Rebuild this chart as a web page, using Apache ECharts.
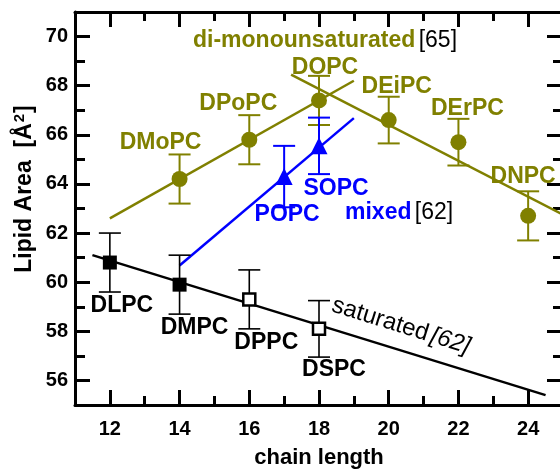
<!DOCTYPE html>
<html>
<head>
<meta charset="utf-8">
<script src="https://cdn.jsdelivr.net/npm/echarts@6/dist/echarts.min.js"></script>
<style>html,body{margin:0;padding:0;background:#fff}#c{width:560px;height:472px}</style>
</head>
<body>
<div id="c"></div>
<script>
// ---- data ----
const xMajorTicks = [12, 14, 16, 18, 20, 22, 24];
const yMajorTicks = [56, 58, 60, 62, 64, 66, 68, 70];

const satNames = ['DLPC', 'DMPC', 'DPPC', 'DSPC'];
const satChain = [12, 14, 16, 18];
const satArea = [60.8, 59.9, 59.3, 58.1];
const satErr = [1.2, 1.2, 1.2, 1.15];
const satFilled = [true, true, false, false];

const monoNames = ['DMoPC', 'DPoPC', 'DOPC', 'DEiPC', 'DErPC', 'DNPC'];
const monoChain = [14, 16, 18, 20, 22, 24];
const monoArea = [64.2, 65.8, 67.4, 66.6, 65.7, 62.7];
const monoErr = [1.0, 1.0, 1.0, 0.95, 0.95, 1.0];

const mixNames = ['POPC', 'SOPC'];
const mixChain = [17, 18];
const mixArea = [64.3, 65.55];
const mixErr = [1.25, 1.15];

const satFitX = [11.5, 24.5], satFitY = [61.1, 55.4];
const monoRiseX = [12, 19], monoRiseY = [62.6, 68.2];
const monoFallX = [17.2, 25], monoFallY = [68.45, 62.75];
const mixFitX = [14, 19], mixFitY = [60.68, 66.68];

// ---- styling / layout ----
const OLIVE = '#808000', BLUE = '#0000ff', BLACK = '#000000';
const FONT = '"Liberation Sans", Arial, sans-serif';
const satLabelOffsets = [[12, 43], [15, 43], [17, 43], [15, 41]];
const monoLabelOffsets = [[-19, -36], [-11, -36], [6, -33], [8, -33], [9, -34], [-5, -39]];
const mixLabelOffsets = [[3, 38], [17, 43]];

const zip = (xs, ys) => xs.map((x, i) => [x, ys[i]]);
const zip3 = (xs, ys, es) => xs.map((x, i) => [x, ys[i], es[i]]);

function errBars(data, color, width) {
  return {
    type: 'custom', xAxisIndex: 0, yAxisIndex: 0, z: 5, silent: true,
    data: data,
    renderItem: function (params, api) {
      const x = api.value(0), y = api.value(1), e = api.value(2);
      const t = api.coord([x, y + e]), b = api.coord([x, y - e]);
      const hw = 11;
      const st = { stroke: color, lineWidth: width };
      return {
        type: 'group', children: [
          { type: 'line', shape: { x1: t[0], y1: t[1], x2: b[0], y2: b[1] }, style: st },
          { type: 'line', shape: { x1: t[0] - hw, y1: t[1], x2: t[0] + hw, y2: t[1] }, style: st },
          { type: 'line', shape: { x1: b[0] - hw, y1: b[1], x2: b[0] + hw, y2: b[1] }, style: st }
        ]
      };
    }
  };
}

function labelSeries(xs, ys, names, offs, color) {
  return {
    type: 'scatter', xAxisIndex: 0, yAxisIndex: 0, z: 1, silent: true,
    symbolSize: 0, itemStyle: { opacity: 1 },
    data: xs.map((x, i) => ({
      value: [x, ys[i]],
      label: {
        show: true, position: 'inside', offset: offs[i], formatter: names[i], opacity: 1,
        color: color, fontSize: 23, fontWeight: 'bold', fontFamily: FONT
      }
    }))
  };
}

function fitLine(xs, ys, color) {
  return {
    type: 'line', xAxisIndex: 0, yAxisIndex: 0, z: 2, silent: true,
    data: zip(xs, ys), symbol: 'none', lineStyle: { color: color, width: 2.5 }
  };
}

// Scale ticks run from min with interval 2 (odd values = short ticks);
// minorTick splits each interval in two (even values = long ticks, labelled).
function xAx(pos, labels) {
  return {
    type: 'value', position: pos, min: 11, max: 25, interval: 2,
    axisLine: { show: true, onZero: false, lineStyle: { color: BLACK, width: 3 } },
    axisTick: { show: true, inside: true, length: 9, lineStyle: { color: BLACK, width: 3 } },
    minorTick: { show: true, splitNumber: 2, length: 15, lineStyle: { color: BLACK, width: 3 } },
    minorSplitLine: { show: false },
    axisLabel: {
      show: labels, customValues: xMajorTicks, color: BLACK, fontSize: 20, fontWeight: 'bold',
      fontFamily: FONT, margin: 14
    },
    splitLine: { show: false },
    name: (labels ? 'chain length' : ''), nameLocation: 'middle', nameGap: 42,
    nameTextStyle: { color: BLACK, fontSize: 22, fontWeight: 'bold', fontFamily: FONT }
  };
}
function yAx(pos, labels, len) {
  return {
    type: 'value', position: pos, min: 55, max: 71, interval: 2,
    axisLine: { show: true, onZero: false, lineStyle: { color: BLACK, width: 3 } },
    axisTick: { show: true, inside: true, length: 10, lineStyle: { color: BLACK, width: 3 } },
    minorTick: { show: true, splitNumber: 2, length: len, lineStyle: { color: BLACK, width: 3 } },
    minorSplitLine: { show: false },
    axisLabel: {
      show: labels, customValues: yMajorTicks, color: BLACK, fontSize: 20, fontWeight: 'bold',
      fontFamily: FONT, margin: 7
    },
    splitLine: { show: false }
  };
}

const option = {
  animation: false,
  backgroundColor: '#ffffff',
  grid: { left: 75, top: 12, width: 488, height: 393, outerBoundsMode: 'none', containLabel: false },
  xAxis: [xAx('bottom', true), xAx('top', false)],
  yAxis: [yAx('left', true, 15), yAx('right', false, 16)],
  graphic: [
    {
      type: 'text', x: 25, y: 189, rotation: Math.PI / 2,
      style: {
        text: '{n|Lipid Area  [Å}{s|2}{n|]}', align: 'center', verticalAlign: 'middle',
        rich: {
          n: { fontSize: 23, fontWeight: 'bold', fontFamily: FONT, fill: BLACK, lineHeight: 26 },
          s: { fontSize: 15, fontWeight: 'bold', fontFamily: FONT, fill: BLACK, verticalAlign: 'top', lineHeight: 26, padding: [0, 1, 10, 1] }
        }
      }
    },
    {
      type: 'text', x: 193, y: 41,
      style: {
        text: '{b|di-monounsaturated} {r|[65]}', align: 'left', verticalAlign: 'middle',
        rich: {
          b: { fontSize: 23, fontWeight: 'bold', fontFamily: FONT, fill: OLIVE },
          r: { fontSize: 23, fontFamily: FONT, fill: BLACK }
        }
      }
    },
    {
      type: 'text', x: 345, y: 213,
      style: {
        text: '{b|mixed} {r|[62]}', align: 'left', verticalAlign: 'middle',
        rich: {
          b: { fontSize: 23, fontWeight: 'bold', fontFamily: FONT, fill: BLUE },
          r: { fontSize: 23, fontFamily: FONT, fill: BLACK }
        }
      }
    },
    {
      type: 'text', x: 401, y: 326, rotation: -17.3 * Math.PI / 180,
      style: {
        text: '{b|saturated} {r|[62]}', align: 'center', verticalAlign: 'middle',
        rich: {
          b: { fontSize: 24, fontFamily: FONT, fill: BLACK },
          r: { fontSize: 24, fontStyle: 'italic', fontFamily: FONT, fill: BLACK }
        }
      }
    }
  ],
  series: [
    fitLine(satFitX, satFitY, BLACK),
    fitLine(monoRiseX, monoRiseY, OLIVE),
    fitLine(monoFallX, monoFallY, OLIVE),
    fitLine(mixFitX, mixFitY, BLUE),
    labelSeries(satChain, satArea, satNames, satLabelOffsets, BLACK),
    labelSeries(monoChain, monoArea, monoNames, monoLabelOffsets, OLIVE),
    labelSeries(mixChain, mixArea, mixNames, mixLabelOffsets, BLUE),
    errBars(zip3(satChain, satArea, satErr), BLACK, 1.6),
    errBars(zip3(monoChain, monoArea, monoErr), OLIVE, 2),
    errBars(zip3(mixChain, mixArea, mixErr), BLUE, 2),
    {
      type: 'scatter', xAxisIndex: 0, yAxisIndex: 0, z: 8, silent: true,
      data: satChain.map((x, i) => ({
        value: [x, satArea[i]],
        symbolSize: satFilled[i] ? 14 : 12,
        itemStyle: satFilled[i]
          ? { color: BLACK, borderWidth: 0, opacity: 1 }
          : { color: '#ffffff', borderColor: BLACK, borderWidth: 2.5, opacity: 1 }
      })),
      symbol: 'rect'
    },
    {
      type: 'scatter', xAxisIndex: 0, yAxisIndex: 0, z: 8, silent: true,
      data: zip(monoChain, monoArea), symbol: 'circle', symbolSize: 16,
      itemStyle: { color: OLIVE, borderWidth: 0, opacity: 1 }
    },
    {
      type: 'scatter', xAxisIndex: 0, yAxisIndex: 0, z: 8, silent: true,
      data: zip(mixChain, mixArea), symbol: 'triangle', symbolSize: 17,
      itemStyle: { color: BLUE, borderWidth: 0, opacity: 1 }
    }
  ]
};

const chart = echarts.init(document.getElementById('c'), null, { renderer: 'canvas' });
chart.setOption(option);
</script>
</body>
</html>
